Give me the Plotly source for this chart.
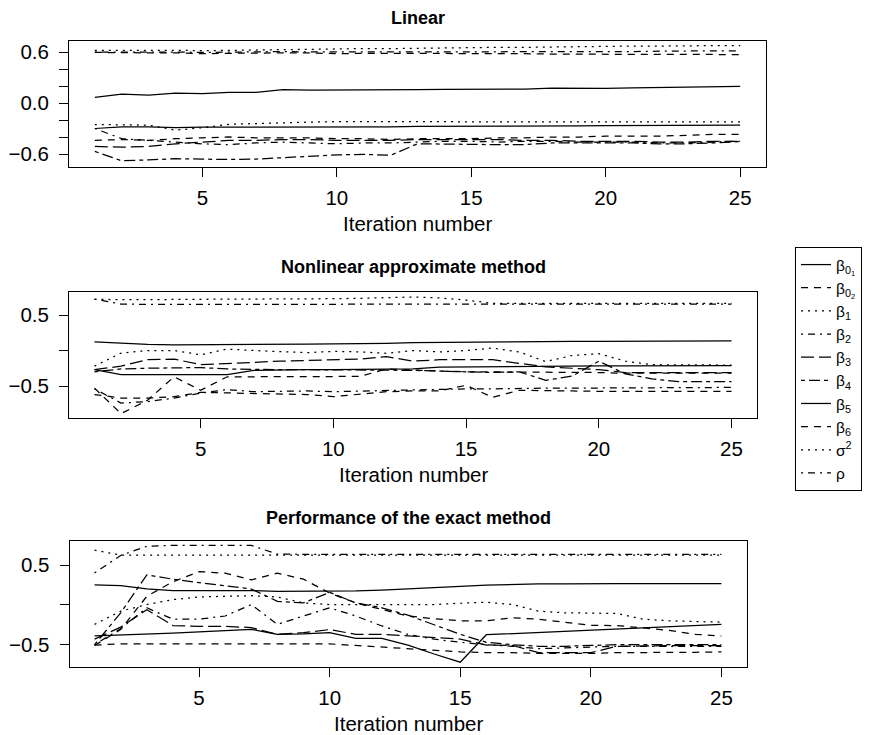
import plotly.graph_objects as go

# ---------------- data ----------------
iterations = list(range(1, 26))

series_names = ["β<sub>0<sub>1</sub></sub>", "β<sub>0<sub>2</sub></sub>", "β<sub>1</sub>", "β<sub>2</sub>",
                "β<sub>3</sub>", "β<sub>4</sub>", "β<sub>5</sub>", "β<sub>6</sub>", "σ<sup>2</sup>", "ρ"]

panel_titles = ["Linear", "Nonlinear approximate method", "Performance of the exact method"]
x_label = "Iteration number"
x_ticks = [5, 10, 15, 20, 25]

# Panel 1: Linear
lin_b01 = [0.066, 0.105, 0.093, 0.117, 0.109, 0.125, 0.125, 0.156, 0.152, 0.152, 0.148, 0.148, 0.156, 0.160, 0.160, 0.164, 0.164, 0.175, 0.171, 0.171, 0.179, 0.183, 0.190, 0.195, 0.195]
lin_b02 = [-0.44, -0.43, -0.44, -0.42, -0.41, -0.40, -0.41, -0.41, -0.41, -0.42, -0.42, -0.43, -0.42, -0.42, -0.42, -0.41, -0.41, -0.40, -0.40, -0.39, -0.39, -0.39, -0.38, -0.37, -0.37]
lin_b1 = [-0.254, -0.254, -0.26, -0.32, -0.29, -0.25, -0.24, -0.23, -0.225, -0.22, -0.22, -0.22, -0.22, -0.22, -0.22, -0.22, -0.22, -0.22, -0.22, -0.22, -0.22, -0.22, -0.22, -0.22, -0.222]
lin_b2 = [-0.30, -0.42, -0.44, -0.46, -0.48, -0.49, -0.47, -0.46, -0.47, -0.48, -0.47, -0.47, -0.46, -0.45, -0.45, -0.46, -0.45, -0.45, -0.46, -0.46, -0.46, -0.47, -0.47, -0.46, -0.45]
lin_b3 = [-0.51, -0.52, -0.51, -0.48, -0.46, -0.44, -0.44, -0.43, -0.43, -0.44, -0.44, -0.44, -0.43, -0.43, -0.43, -0.43, -0.44, -0.44, -0.45, -0.45, -0.45, -0.46, -0.46, -0.45, -0.45]
lin_b4 = [-0.57, -0.68, -0.67, -0.655, -0.66, -0.665, -0.66, -0.645, -0.63, -0.61, -0.605, -0.615, -0.48, -0.485, -0.485, -0.49, -0.49, -0.47, -0.47, -0.47, -0.47, -0.48, -0.48, -0.47, -0.455]
lin_b5 = [-0.30, -0.28, -0.28, -0.29, -0.285, -0.285, -0.285, -0.28, -0.28, -0.28, -0.28, -0.28, -0.275, -0.275, -0.275, -0.275, -0.275, -0.27, -0.27, -0.265, -0.265, -0.265, -0.26, -0.26, -0.26]
lin_b6 = [0.595, 0.59, 0.59, 0.59, 0.58, 0.585, 0.59, 0.59, 0.59, 0.58, 0.585, 0.585, 0.585, 0.58, 0.58, 0.58, 0.58, 0.575, 0.575, 0.575, 0.575, 0.57, 0.57, 0.57, 0.57]
lin_s2 = [0.62, 0.62, 0.625, 0.62, 0.615, 0.62, 0.625, 0.63, 0.63, 0.635, 0.64, 0.64, 0.645, 0.65, 0.65, 0.655, 0.655, 0.66, 0.66, 0.665, 0.67, 0.67, 0.675, 0.675, 0.675]
lin_rho = [0.60, 0.60, 0.605, 0.60, 0.595, 0.60, 0.60, 0.605, 0.60, 0.60, 0.605, 0.60, 0.605, 0.60, 0.60, 0.605, 0.60, 0.60, 0.605, 0.60, 0.605, 0.61, 0.61, 0.615, 0.615]

# Panel 2: Nonlinear approximate method
nl_b01 = [0.122, 0.10, 0.085, 0.08, 0.08, 0.08, 0.085, 0.09, 0.09, 0.095, 0.095, 0.10, 0.11, 0.115, 0.12, 0.12, 0.125, 0.13, 0.13, 0.13, 0.13, 0.133, 0.135, 0.136, 0.136]
nl_b02 = [-0.53, -0.889, -0.70, -0.37, -0.56, -0.37, -0.37, -0.37, -0.37, -0.37, -0.365, -0.26, -0.28, -0.29, -0.30, -0.30, -0.30, -0.31, -0.31, -0.31, -0.32, -0.32, -0.32, -0.32, -0.32]
nl_b1 = [-0.22, -0.037, 0.0, 0.0, -0.06, 0.02, 0.0, -0.02, -0.03, -0.012, -0.02, -0.04, 0.0, -0.02, 0.0, 0.035, -0.02, -0.156, -0.07, -0.045, -0.15, -0.20, -0.20, -0.205, -0.205]
nl_b2 = [-0.54, -0.74, -0.72, -0.67, -0.60, -0.55, -0.58, -0.57, -0.57, -0.58, -0.57, -0.56, -0.55, -0.55, -0.54, -0.54, -0.53, -0.53, -0.53, -0.53, -0.53, -0.52, -0.52, -0.52, -0.52]
nl_b3 = [-0.27, -0.22, -0.13, -0.12, -0.20, -0.18, -0.16, -0.15, -0.14, -0.13, -0.12, -0.085, -0.15, -0.13, -0.13, -0.13, -0.18, -0.23, -0.25, -0.27, -0.31, -0.31, -0.31, -0.31, -0.31]
nl_b4 = [-0.30, -0.26, -0.25, -0.24, -0.24, -0.26, -0.27, -0.27, -0.27, -0.27, -0.27, -0.27, -0.28, -0.29, -0.30, -0.31, -0.30, -0.42, -0.36, -0.15, -0.33, -0.40, -0.44, -0.44, -0.44]
nl_b5 = [-0.27, -0.34, -0.34, -0.34, -0.34, -0.34, -0.28, -0.27, -0.27, -0.27, -0.27, -0.27, -0.26, -0.235, -0.23, -0.225, -0.22, -0.22, -0.22, -0.215, -0.215, -0.213, -0.213, -0.213, -0.213]
nl_b6 = [-0.62, -0.67, -0.67, -0.65, -0.59, -0.60, -0.61, -0.61, -0.62, -0.65, -0.61, -0.58, -0.57, -0.57, -0.49, -0.66, -0.56, -0.57, -0.57, -0.575, -0.575, -0.575, -0.575, -0.575, -0.575]
nl_s2 = [0.72, 0.715, 0.715, 0.72, 0.72, 0.72, 0.725, 0.725, 0.73, 0.73, 0.735, 0.745, 0.754, 0.74, 0.71, 0.665, 0.665, 0.665, 0.665, 0.665, 0.665, 0.665, 0.665, 0.665, 0.665]
nl_rho = [0.725, 0.655, 0.65, 0.65, 0.65, 0.65, 0.65, 0.65, 0.65, 0.65, 0.65, 0.65, 0.65, 0.65, 0.655, 0.655, 0.655, 0.655, 0.655, 0.655, 0.655, 0.655, 0.655, 0.655, 0.655]

# Panel 3: Performance of the exact method
ex_b01 = [0.252, 0.24, 0.20, 0.18, 0.18, 0.18, 0.18, 0.17, 0.17, 0.17, 0.175, 0.185, 0.198, 0.219, 0.231, 0.248, 0.26, 0.264, 0.264, 0.268, 0.266, 0.266, 0.266, 0.266, 0.266]
ex_b02 = [-0.51, -0.31, 0.107, 0.29, 0.417, 0.397, 0.314, 0.397, 0.322, 0.148, 0.024, -0.06, -0.14, -0.174, -0.2, -0.2, -0.162, -0.18, -0.22, -0.257, -0.26, -0.286, -0.32, -0.37, -0.39]
ex_b1 = [-0.245, -0.079, 0.004, 0.066, 0.099, 0.107, 0.115, 0.099, 0.024, 0.004, 0.004, 0.004, 0.004, 0.004, 0.02, 0.032, 0.004, -0.079, -0.1, -0.108, -0.108, -0.18, -0.2, -0.21, -0.216]
ex_b2 = [-0.50, -0.30, -0.037, -0.18, -0.18, -0.14, 0.004, -0.245, -0.14, -0.037, -0.14, -0.265, -0.37, -0.43, -0.47, -0.50, -0.52, -0.55, -0.54, -0.53, -0.52, -0.52, -0.52, -0.52, -0.52]
ex_b3 = [-0.43, -0.28, -0.06, -0.26, -0.27, -0.27, -0.285, -0.37, -0.35, -0.31, -0.37, -0.37, -0.39, -0.41, -0.43, -0.505, -0.51, -0.60, -0.60, -0.60, -0.52, -0.513, -0.513, -0.513, -0.513]
ex_b4 = [-0.50, -0.10, 0.376, 0.322, 0.28, 0.24, 0.198, 0.045, 0.024, 0.157, 0.024, -0.037, -0.13, -0.25, -0.37, -0.47, -0.50, -0.52, -0.52, -0.51, -0.50, -0.50, -0.50, -0.50, -0.50]
ex_b5 = [-0.389, -0.38, -0.369, -0.355, -0.34, -0.325, -0.307, -0.37, -0.365, -0.348, -0.42, -0.42, -0.505, -0.617, -0.72, -0.375, -0.36, -0.35, -0.335, -0.32, -0.305, -0.29, -0.275, -0.26, -0.245]
ex_b6 = [-0.505, -0.49, -0.49, -0.49, -0.49, -0.49, -0.49, -0.49, -0.49, -0.49, -0.51, -0.53, -0.555, -0.575, -0.59, -0.60, -0.60, -0.61, -0.61, -0.61, -0.60, -0.60, -0.60, -0.595, -0.59]
ex_s2 = [0.686, 0.624, 0.624, 0.624, 0.624, 0.624, 0.624, 0.624, 0.624, 0.624, 0.624, 0.624, 0.624, 0.624, 0.624, 0.624, 0.624, 0.624, 0.624, 0.624, 0.624, 0.624, 0.624, 0.624, 0.624]
ex_rho = [0.40, 0.62, 0.735, 0.746, 0.746, 0.746, 0.746, 0.636, 0.632, 0.632, 0.632, 0.632, 0.632, 0.632, 0.632, 0.632, 0.632, 0.632, 0.632, 0.632, 0.632, 0.632, 0.632, 0.632, 0.632]

panels = [
    [lin_b01, lin_b02, lin_b1, lin_b2, lin_b3, lin_b4, lin_b5, lin_b6, lin_s2, lin_rho],
    [nl_b01, nl_b02, nl_b1, nl_b2, nl_b3, nl_b4, nl_b5, nl_b6, nl_s2, nl_rho],
    [ex_b01, ex_b02, ex_b1, ex_b2, ex_b3, ex_b4, ex_b5, ex_b6, ex_s2, ex_rho],
]

# ---------------- style / layout ----------------
W, H = 880, 735
OFF = 8  # the page body adds an 8px margin; place everything relative to the window
FONT = "Liberation Sans, Arial, Helvetica, sans-serif"
# R lty cycle: solid, dashed, dotted, dotdash, longdash, twodash
dashes = ["solid", "7px,6px", "2px,5px", "2px,5px,7px,5px", "13px,5px", "4px,4px,11px,4px"]

# plot boxes in window pixels: (left, right, top, bottom)
boxes = [(69, 766, 40.7, 167), (69, 757, 292.3, 418.3), (69.5, 746.5, 540.7, 667)]
y_ranges = [(-0.753, 0.733), (-0.955, 0.82), (-0.78, 0.805)]
y_tickvals = [[-0.6, -0.4, -0.2, 0.0, 0.2, 0.4, 0.6], [-0.5, 0.0, 0.5], [-0.5, 0.0, 0.5]]
y_ticktext = [["−0.6", "", "", "0.0", "", "", "0.6"], ["−0.5", "", "0.5"], ["−0.5", "", "0.5"]]
title_y = [18, 267, 518]


def fx(px):
    return (px - OFF) / W


def fy(px):
    return 1 - (px - OFF) / H


fig = go.Figure()
layout = dict(
    width=W, height=H,
    margin=dict(l=0, r=0, t=0, b=0, autoexpand=False),
    paper_bgcolor="white", plot_bgcolor="white",
    font=dict(family=FONT, color="black", size=20),
    showlegend=True,
    legend=dict(
        x=fx(795), y=fy(247), xanchor="left", yanchor="top",
        bordercolor="black", borderwidth=1, bgcolor="white",
        font=dict(family=FONT, size=15.5, color="black"),
        traceorder="normal", itemwidth=30,
    ),
    annotations=[],
)

for p, series in enumerate(panels):
    sfx = "" if p == 0 else str(p + 1)
    xa, ya = "x" + sfx, "y" + sfx
    for k, vals in enumerate(series):
        fig.add_trace(go.Scatter(
            x=iterations, y=vals, mode="lines", xaxis=xa, yaxis=ya,
            name=series_names[k], showlegend=(p == 0), legendgroup=str(k),
            line=dict(color="black", width=1.25, dash=dashes[k % 6]),
            hoverinfo="skip",
        ))
    l, r, t, b = boxes[p]
    layout["xaxis" + sfx] = dict(
        domain=[fx(l), fx(r)], range=[0.04, 25.96], anchor=ya,
        tickvals=x_ticks, ticks="outside", ticklen=9, tickwidth=1, tickcolor="black",
        showline=True, linecolor="black", linewidth=1, mirror=True,
        showgrid=False, zeroline=False, ticklabelstandoff=3,
        tickfont=dict(family=FONT, size=20.5, color="black"),
    )
    layout["yaxis" + sfx] = dict(
        domain=[fy(b), fy(t)], range=list(y_ranges[p]), anchor=xa,
        tickvals=y_tickvals[p], ticktext=y_ticktext[p],
        ticks="outside", ticklen=9, tickwidth=1, tickcolor="black",
        showline=True, linecolor="black", linewidth=1, mirror=True,
        showgrid=False, zeroline=False, ticklabelstandoff=6,
        tickfont=dict(family=FONT, size=20.5, color="black"),
    )
    cx = fx((l + r) / 2)
    layout["annotations"].append(dict(
        text="<b>" + panel_titles[p] + "</b>", x=cx, y=fy(title_y[p]),
        xref="paper", yref="paper", showarrow=False, xanchor="center", yanchor="middle",
        font=dict(family=FONT, size=18, color="black"),
    ))
    layout["annotations"].append(dict(
        text=x_label, x=cx, y=fy(b + 56),
        xref="paper", yref="paper", showarrow=False, xanchor="center", yanchor="middle",
        font=dict(family=FONT, size=20.5, color="black"),
    ))

fig.update_layout(**layout)
fig.write_html("out.html")
